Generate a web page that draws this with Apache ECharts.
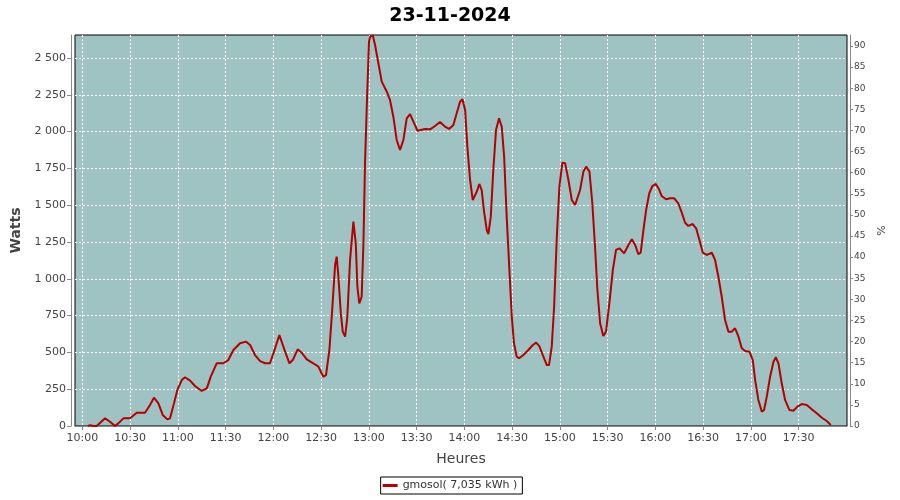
<!DOCTYPE html>
<html>
<head>
<meta charset="utf-8">
<script src="https://cdn.jsdelivr.net/npm/echarts@6/dist/echarts.min.js"></script>
<style>
html,body{margin:0;padding:0;background:#fff;}
#chart{width:900px;height:500px;}
</style>
</head>
<body>
<div id="chart"></div>
<script>
// Time of each sample, in minutes since midnight
const sampleMinutes = [
  603.5, 605, 607, 609,
  614.3, 617.4, 620.5, 622.6, 625.8, 630, 634.2, 639.4, 642.5, 645, 647.8, 650.5, 653.4, 655.1, 657.6, 659.7,
  662.5, 664.5, 667.7, 670.8, 675, 678.2, 680.7, 684.4, 688.6, 691.7, 694.9, 699.1, 702.9, 705.4, 708.5, 711.7,
  714.8, 717.9, 720.4, 723.8, 727.4, 730.1, 732.2, 735.3, 737.8, 741, 745.1, 748.3, 751.4, 753.1, 755.2, 756.7,
  758.8, 759.8, 760.8, 762.4, 763.6, 765.1, 766.5, 768.2, 770.3, 771.8, 772.8, 774, 775.5, 776.6, 777.6, 778.7,
  780.1, 780.8, 782.5, 783.9, 786, 788.1, 791.3, 793.3, 795.4, 797.5, 799.6, 801.7, 803.8, 805.9, 808, 810.5,
  815.3, 818.5, 821.6, 824.7, 827.9, 830.4, 833.1, 835.2, 837.3, 838.8, 840.5, 841.9, 843.6, 845.3, 846.3, 847.8,
  849.4, 850.9, 852.4, 854.1, 855.1, 856.6, 858.2, 859.9, 861.8, 863.5, 865, 866.6, 868.3, 869.8, 871.2, 872.9,
  874.4, 877.1, 880.2, 883, 885.1, 887.1, 889.3, 891.8, 893.2, 894.9, 896.4, 898.1, 899.7, 901.6, 903.3, 905.4,
  907.5, 909.6, 912.7, 914.8, 916.5, 918.6, 920.4, 922.1, 923.6, 925.3, 927.3, 929, 931.1, 933.3, 935.3, 937.4,
  940.4, 943.1, 945.2, 947.3, 949.3, 950.8, 952.5, 954.2, 956.2, 958.1, 960.3, 962.3, 964, 966.7, 969.3, 971.9,
  974.4, 976.6, 978.7, 980.7, 983.5, 985.6, 987.7, 989.8, 992.3, 995.5, 997.5, 999.6, 1001.7, 1003.8, 1005.9, 1008,
  1010.1, 1012.2, 1014.3, 1016.4, 1019.1, 1021.2, 1022.7, 1024.7, 1026.9, 1028.3, 1030, 1032.1, 1034.2, 1035.7, 1037.3, 1039.4,
  1041.5, 1044.2, 1046.7, 1049.2, 1052, 1055.1, 1058.3, 1061.4, 1064.6, 1067.7, 1070.2
];
// Power (W) of each sample
const powerWatts = [
  0, 6, 0, 0,
  52, 29, 0, 18, 52, 52, 90, 90, 143, 192, 154, 75, 45, 52, 154, 245,
  312, 331, 308, 272, 238, 256, 335, 426, 426, 448, 516, 562, 573, 550, 482, 441,
  426, 426, 505, 618, 505, 426, 448, 521, 498, 453, 426, 403, 335, 346, 516, 743,
  1094, 1150, 1026, 765, 641, 607, 743, 1128, 1388, 1241, 946, 833, 878, 1241, 1785, 2169,
  2611, 2645, 2652, 2588, 2464, 2339, 2271, 2214, 2101, 1943, 1875, 1943, 2090, 2119, 2067, 2006,
  2018, 2015, 2038, 2065, 2033, 2018, 2045, 2124, 2203, 2219, 2147, 1897, 1671, 1535, 1524, 1592,
  1644, 1603, 1456, 1331, 1304, 1422, 1739, 2011, 2090, 2033, 1829, 1422, 1060, 743, 562, 471,
  460, 482, 516, 550, 566, 543, 482, 414, 414, 539, 810, 1286, 1626, 1789, 1785, 1671,
  1535, 1501, 1603, 1728, 1762, 1728, 1513, 1218, 924, 698, 611, 641, 833, 1060, 1196, 1207,
  1173, 1230, 1268, 1230, 1168, 1177, 1331, 1467, 1581, 1630, 1644, 1608, 1562, 1540, 1547, 1547,
  1513, 1449, 1381, 1359, 1372, 1343, 1263, 1177, 1162, 1177, 1128, 1014, 878, 720, 641, 641,
  664, 607, 528, 509, 505, 448, 312, 177, 97, 109, 199, 335, 437, 467, 426, 290,
  177, 109, 104, 131, 149, 143, 113, 86, 56, 34, 7
];
// Tick labels
const timeTicks = [600, 630, 660, 690, 720, 750, 780, 810, 840, 870, 900, 930, 960, 990, 1020, 1050];
const wattTicks = [0, 250, 500, 750, 1000, 1250, 1500, 1750, 2000, 2250, 2500];
const pctTicks = [0, 5, 10, 15, 20, 25, 30, 35, 40, 45, 50, 55, 60, 65, 70, 75, 80, 85, 90];
const titleText = '23-11-2024';
const seriesName = 'gmosol( 7,035 kWh )';

const points = sampleMinutes.map((m, i) => [m, powerWatts[i]]);
const FONT = 'DejaVu Sans';
const pad = n => (n < 10 ? '0' : '') + n;
const fmtTime = v => pad(Math.floor(v / 60)) + ':' + pad(Math.round(v % 60));
const fmtW = v => String(v).replace(/\B(?=(\d{3})+(?!\d))/g, ' ');

const chart = echarts.init(document.getElementById('chart'), null, {renderer: 'canvas'});
chart.setOption({
  animation: false,
  backgroundColor: '#ffffff',
  title: {
    text: titleText, left: 'center', top: 2,
    textStyle: {fontFamily: FONT, fontSize: 19, fontWeight: 'bold', color: '#000'}
  },
  legend: {
    data: [seriesName], left: 'center', top: 477,
    backgroundColor: '#fff', borderColor: '#000', borderWidth: 1,
    padding: [3, 5, 3, 2], icon: 'rect', itemWidth: 15, itemHeight: 3,
    textStyle: {fontFamily: FONT, fontSize: 11, color: '#333'}
  },
  grid: {
    left: 75, right: 53, top: 35, bottom: 74, show: true,
    backgroundColor: '#9ec3c2', borderColor: '#000', borderWidth: 1
  },
  xAxis: {
    type: 'value', min: 595.4, max: 1080.4, offset: 4,
    name: 'Heures', nameLocation: 'middle', nameGap: 22,
    nameTextStyle: {fontFamily: FONT, fontSize: 14, color: '#444'},
    axisLine: {show: true, lineStyle: {color: '#888', width: 1}},
    axisTick: {show: true, length: 4, customValues: timeTicks, lineStyle: {color: '#888'}},
    axisLabel: {customValues: timeTicks, formatter: fmtTime, fontFamily: FONT, fontSize: 11, color: '#444', margin: 3},
    splitLine: {show: true, lineStyle: {color: '#ffffff', type: [2, 2], width: 1}}
  },
  yAxis: [{
    type: 'value', min: 0, max: 2656, position: 'left', offset: 4,
    name: 'Watts', nameLocation: 'middle', nameGap: 44,
    nameTextStyle: {fontFamily: FONT, fontSize: 14, color: '#444', fontWeight: 'bold'},
    axisLine: {show: true, lineStyle: {color: '#888', width: 1}},
    axisTick: {show: true, length: 4, customValues: wattTicks, lineStyle: {color: '#888'}},
    axisLabel: {customValues: wattTicks, formatter: fmtW, fontFamily: FONT, fontSize: 11, color: '#444', margin: 5},
    splitLine: {show: true, lineStyle: {color: '#ffffff', type: [2, 2], width: 1}}
  }, {
    type: 'value', min: 0, max: 92.6, position: 'right', offset: 3,
    name: '%', nameLocation: 'middle', nameGap: 26, nameRotate: 90,
    nameTextStyle: {fontFamily: FONT, fontSize: 11, color: '#444'},
    axisLine: {show: true, lineStyle: {color: '#888', width: 1}},
    axisTick: {show: true, length: 3, customValues: pctTicks, lineStyle: {color: '#888'}},
    axisLabel: {customValues: pctTicks, fontFamily: FONT, fontSize: 9, color: '#444', margin: 4},
    splitLine: {show: false}
  }],
  series: [{
    name: seriesName, type: 'line', data: points, yAxisIndex: 0,
    showSymbol: false, symbol: 'none', clip: true,
    color: '#b30000',
    lineStyle: {color: '#b30000', width: 2}
  }]
});
</script>
</body>
</html>
